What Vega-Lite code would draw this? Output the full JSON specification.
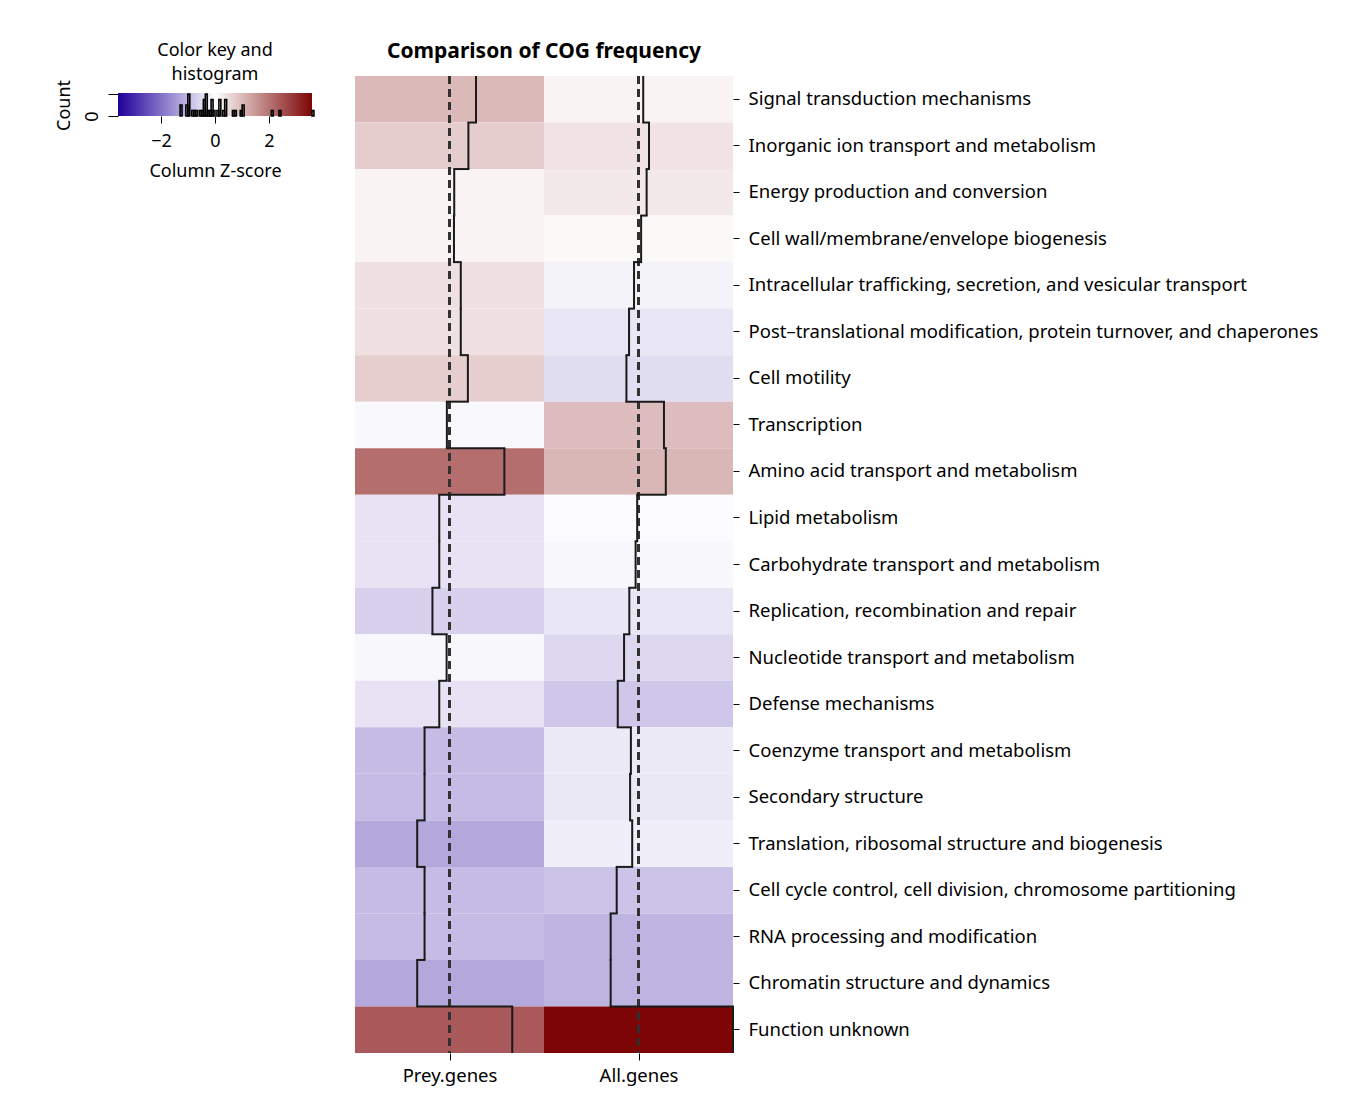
{
  "$schema": "https://vega.github.io/schema/vega-lite/v6.json",
  "padding": {"left": 55, "top": 41, "right": 5, "bottom": 5},
  "config": {
    "view": {"stroke": null},
    "font": "Noto Sans",
    "axis": {"labelFont": "Noto Sans", "titleFont": "Noto Sans", "labelColor": "#000", "titleColor": "#000", "tickColor": "#000", "grid": false, "domain": false},
    "title": {"font": "Noto Sans", "color": "#000"}
  },
  "datasets": {
    "cog": [
      {"cat": "Signal transduction mechanisms", "group": "Prey.genes", "z": 1.01},
      {"cat": "Inorganic ion transport and metabolism", "group": "Prey.genes", "z": 0.72},
      {"cat": "Energy production and conversion", "group": "Prey.genes", "z": 0.18},
      {"cat": "Cell wall/membrane/envelope biogenesis", "group": "Prey.genes", "z": 0.17},
      {"cat": "Intracellular trafficking, secretion, and vesicular transport", "group": "Prey.genes", "z": 0.43},
      {"cat": "Post–translational modification, protein turnover, and chaperones", "group": "Prey.genes", "z": 0.43},
      {"cat": "Cell motility", "group": "Prey.genes", "z": 0.70},
      {"cat": "Transcription", "group": "Prey.genes", "z": -0.10},
      {"cat": "Amino acid transport and metabolism", "group": "Prey.genes", "z": 2.09},
      {"cat": "Lipid metabolism", "group": "Prey.genes", "z": -0.39},
      {"cat": "Carbohydrate transport and metabolism", "group": "Prey.genes", "z": -0.39},
      {"cat": "Replication, recombination and repair", "group": "Prey.genes", "z": -0.65},
      {"cat": "Nucleotide transport and metabolism", "group": "Prey.genes", "z": -0.11},
      {"cat": "Defense mechanisms", "group": "Prey.genes", "z": -0.39},
      {"cat": "Coenzyme transport and metabolism", "group": "Prey.genes", "z": -0.95},
      {"cat": "Secondary structure", "group": "Prey.genes", "z": -0.95},
      {"cat": "Translation, ribosomal structure and biogenesis", "group": "Prey.genes", "z": -1.23},
      {"cat": "Cell cycle control, cell division, chromosome partitioning", "group": "Prey.genes", "z": -0.95},
      {"cat": "RNA processing and modification", "group": "Prey.genes", "z": -0.95},
      {"cat": "Chromatin structure and dynamics", "group": "Prey.genes", "z": -1.23},
      {"cat": "Function unknown", "group": "Prey.genes", "z": 2.39},
      {"cat": "Signal transduction mechanisms", "group": "All.genes", "z": 0.18},
      {"cat": "Inorganic ion transport and metabolism", "group": "All.genes", "z": 0.40},
      {"cat": "Energy production and conversion", "group": "All.genes", "z": 0.31},
      {"cat": "Cell wall/membrane/envelope biogenesis", "group": "All.genes", "z": 0.10},
      {"cat": "Intracellular trafficking, secretion, and vesicular transport", "group": "All.genes", "z": -0.17},
      {"cat": "Post–translational modification, protein turnover, and chaperones", "group": "All.genes", "z": -0.36},
      {"cat": "Cell motility", "group": "All.genes", "z": -0.46},
      {"cat": "Transcription", "group": "All.genes", "z": 0.97},
      {"cat": "Amino acid transport and metabolism", "group": "All.genes", "z": 1.04},
      {"cat": "Lipid metabolism", "group": "All.genes", "z": -0.05},
      {"cat": "Carbohydrate transport and metabolism", "group": "All.genes", "z": -0.11},
      {"cat": "Replication, recombination and repair", "group": "All.genes", "z": -0.35},
      {"cat": "Nucleotide transport and metabolism", "group": "All.genes", "z": -0.55},
      {"cat": "Defense mechanisms", "group": "All.genes", "z": -0.79},
      {"cat": "Coenzyme transport and metabolism", "group": "All.genes", "z": -0.29},
      {"cat": "Secondary structure", "group": "All.genes", "z": -0.32},
      {"cat": "Translation, ribosomal structure and biogenesis", "group": "All.genes", "z": -0.24},
      {"cat": "Cell cycle control, cell division, chromosome partitioning", "group": "All.genes", "z": -0.83},
      {"cat": "RNA processing and modification", "group": "All.genes", "z": -1.06},
      {"cat": "Chromatin structure and dynamics", "group": "All.genes", "z": -1.06},
      {"cat": "Function unknown", "group": "All.genes", "z": 3.60}
    ]
  },
  "spacing": 40,
  "hconcat": [
    {
      "width": 194,
      "height": 40,
      "title": {"text": ["Color key and", "histogram"], "fontSize": 18, "fontWeight": "normal", "frame": "group", "anchor": "middle", "lineHeight": 24, "offset": -8},
      "layer": [
        {
          "data": {"values": [{}]},
          "mark": {"type": "rect", "fill": {"gradient": "linear", "x1": 0, "x2": 1, "y1": 0, "y2": 0, "stops": [{"offset": 0, "color": "#1f009a"}, {"offset": 0.5, "color": "#ffffff"}, {"offset": 1, "color": "#7d0505"}]}},
          "encoding": {
            "x": {"datum": -3.6, "type": "quantitative", "scale": {"domain": [-3.6, 3.6], "nice": false, "zero": false},
                  "axis": {"values": [-2, 0, 2], "title": "Column Z-score", "labelFontSize": 18, "titleFontSize": 18, "titleFontWeight": "normal", "tickSize": 7, "labelPadding": 9, "titlePadding": 12}},
            "x2": {"datum": 3.6},
            "y": {"datum": 0, "type": "quantitative", "scale": {"domain": [0, 7.32], "nice": false, "zero": false},
                  "axis": {"values": [0, 1, 2, 3, 4], "labelExpr": "datum.value == 0 ? '0' : ''", "labelAngle": -90, "title": "Count", "titleY": 29, "labelFontSize": 18, "titleFontSize": 18, "titleFontWeight": "normal", "tickSize": 10, "labelPadding": 7, "titlePadding": 10}},
            "y2": {"datum": 4.21}
          }
        },
        {
          "data": {"name": "cog"},
          "transform": [
            {"bin": {"step": 0.072, "extent": [-3.6, 3.6], "nice": false}, "field": "z", "as": ["b0", "b1"]},
            {"aggregate": [{"op": "count", "as": "n"}], "groupby": ["b0", "b1"]}
          ],
          "mark": {"type": "rect", "fillOpacity": 0, "stroke": "#000", "strokeWidth": 1.6},
          "encoding": {
            "x": {"field": "b0", "type": "quantitative"},
            "x2": {"field": "b1"},
            "y": {"field": "n", "type": "quantitative"},
            "y2": {"datum": 0}
          }
        }
      ]
    },
    {
      "spacing": 0,
      "bounds": "flush",
      "hconcat": [
        {
          "width": 189,
          "height": 977,
          "title": {"text": "Comparison of COG frequency", "anchor": "end", "align": "center", "fontSize": 21, "fontWeight": "bold", "offset": 13},
          "data": {"name": "cog"},
          "transform": [{"filter": "datum.group == 'Prey.genes'"}, {"window": [{"op": "lag", "field": "z", "as": "zprev"}]}],
          "layer": [
            {
              "mark": {"type": "rect"},
              "encoding": {
                "y": {"field": "cat", "type": "nominal", "sort": null, "axis": null, "scale": {"paddingInner": 0, "paddingOuter": 0}},
                "x": {"datum": -3.6, "type": "quantitative", "scale": {"domain": [-3.6, 3.6], "nice": false, "zero": false},
                      "axis": {"values": [0], "labels": false, "title": "Prey.genes", "titleFontSize": 18.5, "titleFontWeight": "normal", "tickSize": 7, "titlePadding": 6}},
                "x2": {"datum": 3.6},
                "color": {"field": "z", "type": "quantitative", "legend": null, "scale": {"domain": [-3.6, 0, 3.6], "range": ["#1f009a", "#ffffff", "#7d0505"], "interpolate": "rgb"}}
              }
            },
            {
              "mark": {"type": "rule", "strokeDash": [8, 5], "color": "#333", "strokeWidth": 1.5},
              "encoding": {"x": {"datum": 0, "type": "quantitative"}}
            },
            {
              "mark": {"type": "rect", "fillOpacity": 0, "stroke": "#1a1a1a", "strokeWidth": 2},
              "encoding": {
                "y": {"field": "cat", "type": "nominal", "sort": null},
                "x": {"field": "z", "type": "quantitative"},
                "x2": {"field": "z"}
              }
            },
            {
              "transform": [{"filter": "isValid(datum.zprev)"}],
              "mark": {"type": "rule", "color": "#1a1a1a", "strokeWidth": 2, "strokeCap": "square"},
              "encoding": {
                "y": {"field": "cat", "type": "nominal", "sort": null, "bandPosition": 0},
                "x": {"field": "zprev", "type": "quantitative"},
                "x2": {"field": "z"}
              }
            }
          ]
        },
        {
          "width": 189,
          "height": 977,
          "data": {"name": "cog"},
          "transform": [{"filter": "datum.group == 'All.genes'"}, {"window": [{"op": "lag", "field": "z", "as": "zprev"}]}],
          "layer": [
            {
              "mark": {"type": "rect"},
              "encoding": {
                "y": {"field": "cat", "type": "nominal", "sort": null, "scale": {"paddingInner": 0, "paddingOuter": 0},
                      "axis": {"orient": "right", "title": null, "labelFontSize": 18.5, "tickSize": 6, "labelPadding": 9, "labelLimit": 0}},
                "x": {"datum": -3.6, "type": "quantitative", "scale": {"domain": [-3.6, 3.6], "nice": false, "zero": false},
                      "axis": {"values": [0], "labels": false, "title": "All.genes", "titleFontSize": 18.5, "titleFontWeight": "normal", "tickSize": 7, "titlePadding": 6}},
                "x2": {"datum": 3.6},
                "color": {"field": "z", "type": "quantitative", "legend": null, "scale": {"domain": [-3.6, 0, 3.6], "range": ["#1f009a", "#ffffff", "#7d0505"], "interpolate": "rgb"}}
              }
            },
            {
              "mark": {"type": "rule", "strokeDash": [8, 5], "color": "#333", "strokeWidth": 1.5},
              "encoding": {"x": {"datum": 0, "type": "quantitative"}}
            },
            {
              "mark": {"type": "rect", "fillOpacity": 0, "stroke": "#1a1a1a", "strokeWidth": 2},
              "encoding": {
                "y": {"field": "cat", "type": "nominal", "sort": null},
                "x": {"field": "z", "type": "quantitative"},
                "x2": {"field": "z"}
              }
            },
            {
              "transform": [{"filter": "isValid(datum.zprev)"}],
              "mark": {"type": "rule", "color": "#1a1a1a", "strokeWidth": 2, "strokeCap": "square"},
              "encoding": {
                "y": {"field": "cat", "type": "nominal", "sort": null, "bandPosition": 0},
                "x": {"field": "zprev", "type": "quantitative"},
                "x2": {"field": "z"}
              }
            }
          ]
        }
      ]
    }
  ]
}
